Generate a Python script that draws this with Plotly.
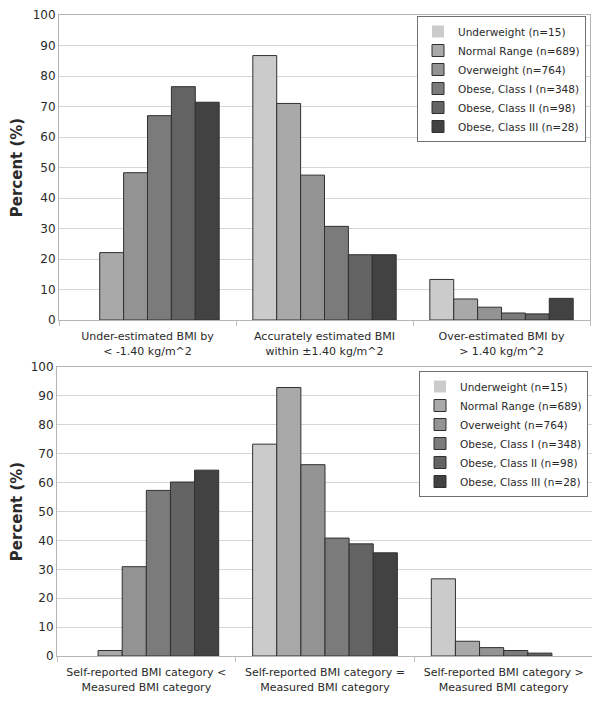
import plotly.graph_objects as go
from plotly.subplots import make_subplots

# BMI groups + bar shades
groups = ["Underweight (n=15)", "Normal Range (n=689)", "Overweight (n=764)",
          "Obese, Class I (n=348)", "Obese, Class II (n=98)", "Obese, Class III (n=28)"]
shades = ["#cbcbcb", "#a9a9a9", "#939393", "#7b7b7b", "#636363", "#424242"]

# top panel : BMI value estimate
cats_top = ["Under-estimated BMI by<br>< -1.40 kg/m^2",
            "Accurately estimated BMI<br>within ±1.40 kg/m^2",
            "Over-estimated BMI by<br>> 1.40 kg/m^2"]
underweight_top = [0, 86.7, 13.3]
normal_top = [22.1, 71.0, 6.9]
overweight_top = [48.3, 47.5, 4.2]
obese1_top = [67.0, 30.7, 2.3]
obese2_top = [76.5, 21.4, 2.0]
obese3_top = [71.4, 21.4, 7.1]

# bottom panel : BMI category estimate
cats_bot = ["Self-reported BMI category <<br>Measured BMI category",
            "Self-reported BMI category =<br>Measured BMI category",
            "Self-reported BMI category ><br>Measured BMI category"]
underweight_bot = [0, 73.3, 26.7]
normal_bot = [1.9, 92.9, 5.1]
overweight_bot = [30.9, 66.2, 2.9]
obese1_bot = [57.3, 40.8, 1.9]
obese2_bot = [60.2, 38.8, 1.0]
obese3_bot = [64.3, 35.7, 0]

top_series = [underweight_top, normal_top, overweight_top, obese1_top, obese2_top, obese3_top]
bot_series = [underweight_bot, normal_bot, overweight_bot, obese1_bot, obese2_bot, obese3_bot]

font_fam = "DejaVu Sans"
txt = "#2a2a2a"
W, H = 600, 704
OFF = 8   # page body margin offsets the figure by 8px

def px_x(p):
    return (p - OFF) / W

def px_y(p):
    return 1 - (p - OFF) / H

fig = make_subplots(rows=2, cols=1)

def bar(cats, vals, name, col, leg):
    # no outline on empty (0 %) bars
    widths = [1 if v > 0 else 0 for v in vals]
    return go.Bar(x=cats, y=vals, name=name, legend=leg,
                  marker=dict(color=col, line=dict(color="#303030", width=widths)))

for name, col, vals in zip(groups, shades, top_series):
    fig.add_trace(bar(cats_top, vals, name, col, "legend"), row=1, col=1)
for name, col, vals in zip(groups, shades, bot_series):
    fig.add_trace(bar(cats_bot, vals, name, col, "legend2"), row=2, col=1)

legend_style = dict(xanchor="left", yanchor="top", bgcolor="white", bordercolor="#707070", borderwidth=1,
                    font=dict(family=font_fam, size=10.5, color=txt), tracegroupgap=0, itemwidth=30)

fig.update_layout(
    width=W, height=H,
    margin=dict(l=0, r=0, t=0, b=0),
    paper_bgcolor="white", plot_bgcolor="white",
    barmode="group", bargap=0.19, bargroupgap=0,
    font=dict(family=font_fam, size=12, color=txt),
    legend=dict(x=px_x(417), y=px_y(16), **legend_style),
    legend2=dict(x=px_x(419), y=px_y(371), **legend_style),
)

axis_y = dict(range=[0, 100], dtick=10, showgrid=True, gridcolor="#d6d6d6", showline=True, linecolor="#b5b5b5",
              mirror=True, ticks="", tickfont=dict(size=12, color=txt), automargin=False,
              title=dict(text="<b>Percent (%)</b>", font=dict(size=15, color=txt), standoff=14))
axis_x = dict(showline=True, linecolor="#b5b5b5", mirror=True, ticks="outside", tickson="boundaries",
              ticklen=5, tickcolor="#c0c0c0", tickangle=0, ticklabelstandoff=6,
              tickfont=dict(size=11, color=txt), automargin=False)

fig.update_yaxes(domain=[px_y(320), px_y(15)], row=1, col=1, **axis_y)
fig.update_yaxes(domain=[px_y(656), px_y(367)], row=2, col=1, **axis_y)
fig.update_xaxes(domain=[px_x(59), px_x(590)], row=1, col=1, **axis_x)
fig.update_xaxes(domain=[px_x(57), px_x(593)], row=2, col=1, **axis_x)

fig.write_html("out.html")
